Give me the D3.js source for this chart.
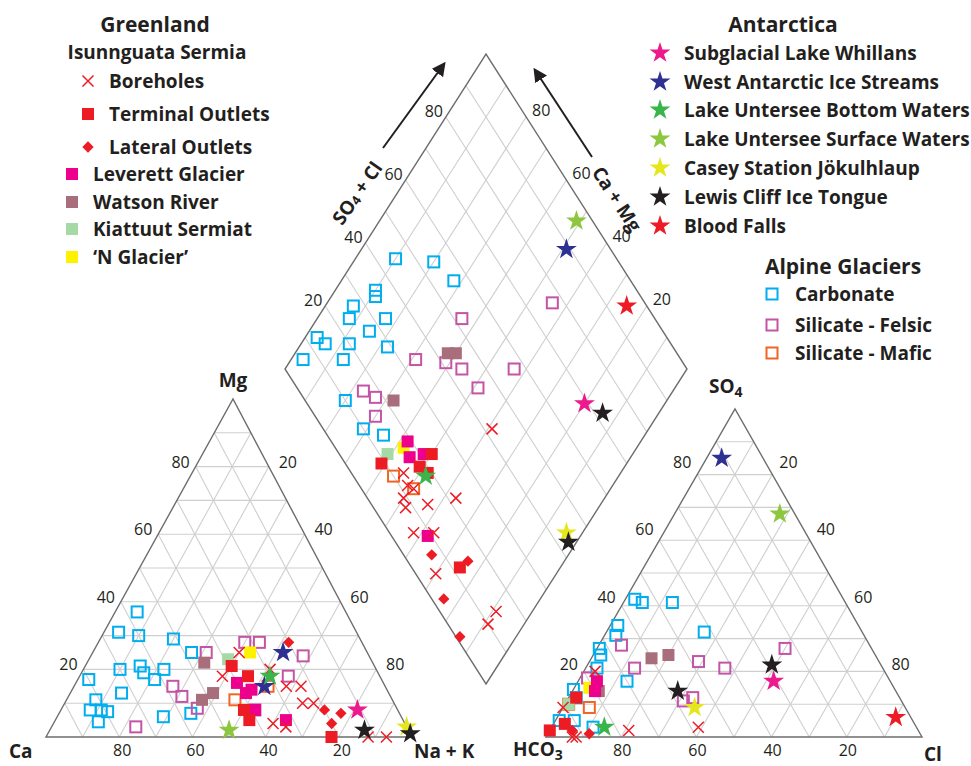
<!DOCTYPE html>
<html>
<head>
<meta charset="utf-8">
<script src="https://cdn.jsdelivr.net/npm/d3@7"></script>
<style>
  body { margin: 0; background: #fff; }
  text { font-family: "Open Sans", sans-serif; fill: #231f20; }
  .tick { font-size: 16px; }
  .axis { font-size: 19px; font-weight: 700; }
  .leg { font-size: 19px; font-weight: 700; }
  .head { font-size: 21px; font-weight: 700; }
</style>
</head>
<body>
<div id="main"></div>
<script>
// ---- data ----
// cation triangle: [Mg %, Na+K %]   (Ca is the rest)
// anion triangle:  [SO4 %, Cl %]    (HCO3 is the rest)
// diamond:         [Ca+Mg %, SO4+Cl %]

var boreholesCation = [[25,40],[18,39],[20,51],[15,58],[15,62],[10,65],[10,68],[4,60],[3,64],[0,88],[0,93]];
var boreholesAnion = [[2,21],[3,39],[0,7],[0,8],[9,0],[20,3]];
var boreholesDiamond = [[39,42],[54,13],[51,12],[50,9],[48,8],[43,14],[37,22],[42,6],[37,11],[30,5],[9,14],[9,10],[49,13]];

var terminalCation = [[21,40],[18,46],[8,50],[5,53],[0,78]];
var terminalAnion = [[2,0],[12,2],[4,3]];
var terminalDiamond = [[61,9],[50,23],[51,18],[48,19],[25,12]];

var lateralCation = [[28,52],[8,72],[7,77],[4,76]];
var lateralAnion = [[2,6],[1,11]];
var lateralDiamond = [[34,7],[24,15],[24,3],[14,1]];

var leverettCation = [[16,44],[14,49],[13,48],[5,63],[8,53]];
var leverettAnion = [[17,5],[14,6]];
var leverettDiamond = [[58,19],[52,21],[55,17],[38,9]];

var watsonCation = [[22,32],[11,37],[13,39]];
var watsonAnion = [[24,16],[25,20],[14,7]];
var watsonDiamond = [[62,43],[60,45],[68,22]];

var kiattuutCation = [[23,38]];
var kiattuutAnion = [[10,1]];
var kiattuutDiamond = [[61,12]];

var nGlacierCation = [[25,43]];
var nGlacierAnion = [[15,4]];
var nGlacierDiamond = [[58,17]];

var whillansCation = [[8,81]];
var whillansAnion = [[17,52]];
var whillansDiamond = [[20,69]];

var waisCation = [[25,52],[15,52]];
var waisAnion = [[85,4]];
var waisDiamond = [[49,89]];

var unterseeBottomCation = [[18,52]];
var unterseeBottomAnion = [[3,14]];
var unterseeBottomDiamond = [[48,18]];

var unterseeSurfaceCation = [[2,49]];
var unterseeSurfaceAnion = [[68,28]];
var unterseeSurfaceDiamond = [[51,96]];

var caseyCation = [[3,97]];
var caseyAnion = [[9,35]];
var caseyDiamond = [[4,44]];

var lewisCation = [[2,86],[1,99]];
var lewisAnion = [[22,49],[14,28]];
var lewisDiamond = [[14,72],[2,43]];

var bloodCation = [];
var bloodAnion = [[6,90]];
var bloodDiamond = [[25,95]];

var carbonateCation = [[37,6],[31,4],[30,10],[29,20],[25,27],[20,10],[21,15],[19,17],[17,21],[20,22],[17,3],[11,8],[13,14],[8,8],[8,11],[7.5,13],[4.5,12],[6,29],[7,36]];
var carbonateAnion = [[42,2.5],[41,5],[41,13],[32,26],[34,2],[31,3],[27,0.6],[25,2],[21,3],[17,13],[14.5,0],[12,2],[5,1],[5,5],[3,11]];
var carbonateDiamond = [[90,45],[80,54],[72,56],[90,35],[89,34],[93,27],[92,24],[83,33],[85,27],[97,13],[94,14],[88,20],[78,29],[97,6],[87,16],[80,10],[71,10],[65,14]];

var felsicCation = [[25,31],[28,40],[28,44],[24,58],[18,57],[15,27],[12,31],[8.5,37],[3,23],[8,53]];
var felsicAnion = [[28,6],[21,13],[23,29],[21,37],[27,50],[12,33],[11,31],[18,2]];
var felsicDiamond = [[44,77],[64,52],[69,34],[61,41],[56,44],[43,57],[77,16],[73,18],[70,15],[49,45]];

var maficCation = [[11,46],[15,53]];
var maficAnion = [[10,1],[9,7]];
var maficDiamond = [[56,10],[49,13]];

var ticks = [20, 40, 60, 80];

// ---- series table (draw order) ----
var series = [
  {name: "Carbonate", cat: carbonateCation, an: carbonateAnion, dia: carbonateDiamond, shape: "open", color: "#00aeef"},
  {name: "Silicate - Felsic", cat: felsicCation, an: felsicAnion, dia: felsicDiamond, shape: "open", color: "#c455a6"},
  {name: "Silicate - Mafic", cat: maficCation, an: maficAnion, dia: maficDiamond, shape: "open", color: "#f26522"},
  {name: "Watson River", cat: watsonCation, an: watsonAnion, dia: watsonDiamond, shape: "square", color: "#a86e7c"},
  {name: "Kiattuut Sermiat", cat: kiattuutCation, an: kiattuutAnion, dia: kiattuutDiamond, shape: "square", color: "#a5d9a5"},
  {name: "\u2018N Glacier\u2019", cat: nGlacierCation, an: nGlacierAnion, dia: nGlacierDiamond, shape: "square", color: "#fff200"},
  {name: "Leverett Glacier", cat: leverettCation, an: leverettAnion, dia: leverettDiamond, shape: "square", color: "#ec008c"},
  {name: "Terminal Outlets", cat: terminalCation, an: terminalAnion, dia: terminalDiamond, shape: "square", color: "#ed1c24"},
  {name: "Lateral Outlets", cat: lateralCation, an: lateralAnion, dia: lateralDiamond, shape: "diamond", color: "#ed1c24"},
  {name: "Boreholes", cat: boreholesCation, an: boreholesAnion, dia: boreholesDiamond, shape: "x", color: "#ed1c24"},
  {name: "Subglacial Lake Whillans", cat: whillansCation, an: whillansAnion, dia: whillansDiamond, shape: "star", color: "#ec1a8c"},
  {name: "West Antarctic Ice Streams", cat: waisCation, an: waisAnion, dia: waisDiamond, shape: "star", color: "#2e3192"},
  {name: "Lake Untersee Bottom Waters", cat: unterseeBottomCation, an: unterseeBottomAnion, dia: unterseeBottomDiamond, shape: "star", color: "#39b54a"},
  {name: "Lake Untersee Surface Waters", cat: unterseeSurfaceCation, an: unterseeSurfaceAnion, dia: unterseeSurfaceDiamond, shape: "star", color: "#8dc63f"},
  {name: "Casey Station J\u00f6kulhlaup", cat: caseyCation, an: caseyAnion, dia: caseyDiamond, shape: "star", color: "#e6e61e"},
  {name: "Blood Falls", cat: bloodCation, an: bloodAnion, dia: bloodDiamond, shape: "star", color: "#ed1c24"},
  {name: "Lewis Cliff Ice Tongue", cat: lewisCation, an: lewisAnion, dia: lewisDiamond, shape: "star", color: "#231f20"}
];
var byName = {};
series.forEach(function(s) { byName[s.name] = s; });

var width = 971, height = 766;
var svg = d3.select("#main").append("svg")
    .attr("width", width)
    .attr("height", height);

// affine ternary mapping built from linear scales
function makeTernary(o, r, a) {
  var rx = d3.scaleLinear().domain([0, 100]).range([0, r[0] - o[0]]),
      ry = d3.scaleLinear().domain([0, 100]).range([0, r[1] - o[1]]),
      ax = d3.scaleLinear().domain([0, 100]).range([0, a[0] - o[0]]),
      ay = d3.scaleLinear().domain([0, 100]).range([0, a[1] - o[1]]);
  return function(pa, pr) { return [o[0] + rx(pr) + ax(pa), o[1] + ry(pr) + ay(pa)]; };
}

var cat = makeTernary([46, 737], [412, 737], [233, 399]);   // Ca, Na+K, Mg
var an = makeTernary([546, 737], [922, 737], [735, 409]);   // HCO3, Cl, SO4
var dia = makeTernary([486, 684], [687, 369], [285, 369]);  // bottom, right, left

var line = d3.line();
var tens = d3.range(10, 100, 10);

function triGrid(f) {
  var g = svg.append("g");
  var segs = [];
  tens.forEach(function(k) {
    segs.push([f(k, 0), f(k, 100 - k)]);
    segs.push([f(0, k), f(100 - k, k)]);
    segs.push([f(0, 100 - k), f(100 - k, 0)]);
  });
  g.selectAll("path").data(segs).enter().append("path")
    .attr("d", line).attr("stroke", "#cfcfcf").attr("stroke-width", 1.1).attr("fill", "none");
  g.append("path")
    .attr("d", line([f(0, 0), f(0, 100), f(100, 0)]) + "Z")
    .attr("fill", "none").attr("stroke", "#6d6d6d").attr("stroke-width", 1.4);
}
triGrid(cat);
triGrid(an);

// diamond grid
(function() {
  var g = svg.append("g");
  var segs = [];
  tens.forEach(function(k) {
    segs.push([dia(k, 0), dia(k, 100)]);
    segs.push([dia(0, k), dia(100, k)]);
  });
  g.selectAll("path").data(segs).enter().append("path")
    .attr("d", line).attr("stroke", "#cfcfcf").attr("stroke-width", 1.1).attr("fill", "none");
  g.append("path")
    .attr("d", line([dia(0, 0), dia(0, 100), dia(100, 100), dia(100, 0)]) + "Z")
    .attr("fill", "none").attr("stroke", "#6d6d6d").attr("stroke-width", 1.4);
})();

// tick labels
function tickLabels(pts) {
  svg.append("g").selectAll("text").data(pts).enter().append("text")
    .attr("class", "tick")
    .attr("text-anchor", "middle")
    .attr("dominant-baseline", "central")
    .attr("x", function(d) { return d.p[0] + d.dx; })
    .attr("y", function(d) { return d.p[1] + d.dy; })
    .text(function(d) { return d.k; });
}
tickLabels(ticks.map(function(k) { return {k: k, p: cat(k, 0), dx: -15, dy: -5}; }));
tickLabels(ticks.map(function(k) { return {k: k, p: cat(100 - k, k), dx: 19, dy: -5}; }));
tickLabels(ticks.map(function(k) { return {k: k, p: cat(0, 100 - k), dx: 3, dy: 13}; }));
tickLabels(ticks.map(function(k) { return {k: k, p: an(k, 0), dx: -15, dy: -(5 + 0.1 * k)}; }));
tickLabels(ticks.map(function(k) { return {k: k, p: an(100 - k, k), dx: 16, dy: -(5 + 0.1 * (100 - k))}; }));
tickLabels(ticks.map(function(k) { return {k: k, p: an(0, 100 - k), dx: 1, dy: 13}; }));
tickLabels(ticks.map(function(k) { return {k: k, p: dia(100, k), dx: -12, dy: -6}; }));
tickLabels(ticks.map(function(k) { return {k: k, p: dia(k, 100), dx: 15, dy: -7}; }));

// axis names
svg.append("text").attr("class", "axis").attr("x", 233).attr("y", 387).attr("text-anchor", "middle").text("Mg");
svg.append("text").attr("class", "axis").attr("x", 9).attr("y", 758).text("Ca");
svg.append("text").attr("class", "axis").attr("x", 414).attr("y", 758).text("Na + K");
var so4 = svg.append("text").attr("class", "axis").attr("x", 709).attr("y", 393);
so4.append("tspan").text("SO");
so4.append("tspan").attr("font-size", 14).attr("dy", 4).text("4");
var hco3 = svg.append("text").attr("class", "axis").attr("x", 513).attr("y", 756);
hco3.append("tspan").text("HCO");
hco3.append("tspan").attr("font-size", 14).attr("dy", 4).text("3");
svg.append("text").attr("class", "axis").attr("x", 924).attr("y", 761).text("Cl");

// arrows with rotated labels
svg.append("defs").append("marker")
    .attr("id", "ah").attr("viewBox", "0 0 10 10").attr("refX", 8).attr("refY", 5)
    .attr("markerWidth", 7).attr("markerHeight", 7).attr("orient", "auto")
  .append("path").attr("d", "M0,0L10,5L0,10Z").attr("fill", "#231f20");
svg.append("path").attr("d", line([[383, 148], [444, 64]]))
    .attr("stroke", "#231f20").attr("stroke-width", 2).attr("marker-end", "url(#ah)");
svg.append("path").attr("d", line([[592, 157], [535, 70]]))
    .attr("stroke", "#231f20").attr("stroke-width", 2).attr("marker-end", "url(#ah)");
var lt = svg.append("text").attr("class", "axis").attr("font-size", 17)
    .attr("transform", "translate(357,193) rotate(-55)").attr("text-anchor", "middle")
    .attr("dominant-baseline", "central");
lt.append("tspan").text("SO");
lt.append("tspan").attr("font-size", 13).attr("dy", 3).text("4");
lt.append("tspan").attr("dy", -3).text(" + Cl");
svg.append("text").attr("class", "axis").attr("font-size", 17)
    .attr("transform", "translate(617,199) rotate(57)").attr("text-anchor", "middle")
    .attr("dominant-baseline", "central").text("Ca + Mg");

// markers
function drawMarker(sel, shape, color) {
  if (shape === "open") {
    sel.append("rect").attr("x", -5.5).attr("y", -5.5).attr("width", 11).attr("height", 11)
      .attr("fill", "none").attr("stroke", color).attr("stroke-width", 2);
  } else if (shape === "square") {
    sel.append("path").attr("d", d3.symbol(d3.symbolSquare, 144)()).attr("fill", color);
  } else if (shape === "diamond") {
    sel.append("path").attr("d", d3.symbol(d3.symbolSquare, 64)()).attr("transform", "rotate(45)").attr("fill", color);
  } else if (shape === "x") {
    sel.append("path").attr("d", "M-5.5,-5.5L5.5,5.5M5.5,-5.5L-5.5,5.5")
      .attr("stroke", color).attr("stroke-width", 1.5).attr("fill", "none");
  } else if (shape === "star") {
    sel.append("path").attr("d", d3.symbol(d3.symbolStar, 135)()).attr("fill", color);
  }
}

function plotPanel(key, f) {
  var g = svg.append("g");
  series.forEach(function(s) {
    g.append("g").selectAll("g").data(s[key]).enter().append("g")
      .attr("transform", function(d) { var p = f(d[0], d[1]); return "translate(" + p[0] + "," + p[1] + ")"; })
      .each(function() { drawMarker(d3.select(this), s.shape, s.color); });
  });
}
plotPanel("cat", cat);
plotPanel("an", an);
plotPanel("dia", dia);

// legends
function legend(names, mx, tx, ys) {
  names.forEach(function(n, i) {
    var s = byName[n];
    var g = svg.append("g").attr("transform", "translate(" + mx + "," + ys[i] + ")");
    drawMarker(g, s.shape, s.color);
    svg.append("text").attr("class", "leg").attr("x", tx).attr("y", ys[i])
      .attr("dominant-baseline", "central").text(n);
  });
}
svg.append("text").attr("class", "head").attr("x", 155).attr("y", 32).attr("text-anchor", "middle").text("Greenland");
svg.append("text").attr("class", "leg").attr("font-size", 20).attr("font-weight", 600)
    .attr("x", 157).attr("y", 59).attr("text-anchor", "middle").text("Isunnguata Sermia");
legend(["Boreholes", "Terminal Outlets", "Lateral Outlets"], 88, 109, [81, 114, 147]);
legend(["Leverett Glacier", "Watson River", "Kiattuut Sermiat", "\u2018N Glacier\u2019"], 72, 93, [174, 202, 229, 257]);

svg.append("text").attr("class", "head").attr("x", 783).attr("y", 32).attr("text-anchor", "middle").text("Antarctica");
legend(["Subglacial Lake Whillans", "West Antarctic Ice Streams", "Lake Untersee Bottom Waters",
        "Lake Untersee Surface Waters", "Casey Station J\u00f6kulhlaup", "Lewis Cliff Ice Tongue", "Blood Falls"],
       660, 684, [53, 82, 110, 139, 168, 197, 226]);

svg.append("text").attr("class", "head").attr("font-size", 20).attr("x", 843).attr("y", 274).attr("text-anchor", "middle").text("Alpine Glaciers");
legend(["Carbonate", "Silicate - Felsic", "Silicate - Mafic"], 772, 795, [294, 325, 353]);
</script>
</body>
</html>
